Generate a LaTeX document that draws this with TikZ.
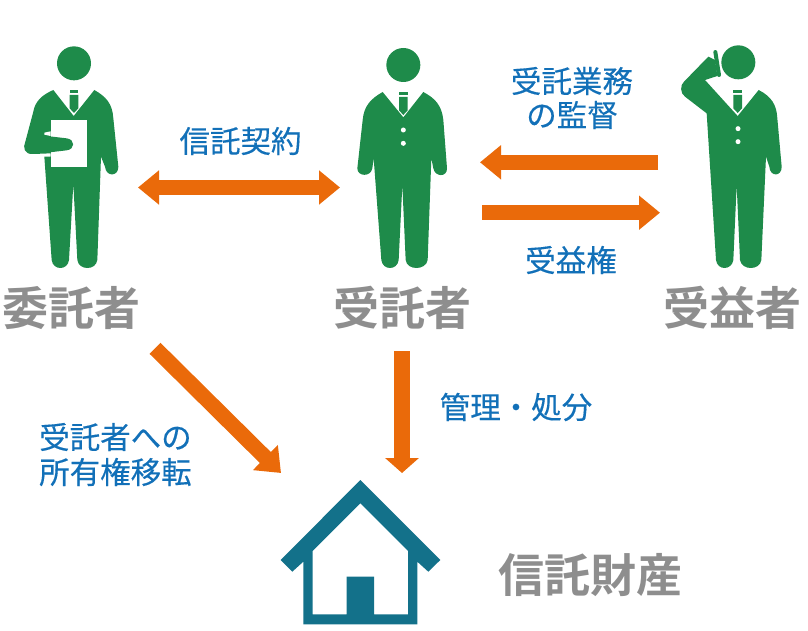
\documentclass[tikz,border=0pt]{standalone}
\usepackage{fontspec}
\setmainfont{Noto Sans CJK JP}[BoldFont={* Bold}]
\newfontface\labface{Noto Sans CJK JP}[FakeBold=0.35]
\usetikzlibrary{arrows.meta}
\definecolor{mangreen}{HTML}{1E8B4A}
\definecolor{arroworange}{HTML}{EA6A0A}
\definecolor{labelblue}{HTML}{1270B8}
\definecolor{titlegray}{HTML}{8E8E8E}
\definecolor{housecol}{HTML}{13718A}
\tikzset{
  bluelabel/.style={text=labelblue,font=\labface\fontsize{30.5}{34}\selectfont,inner sep=0pt},
  graylabel/.style={text=titlegray,font=\fontsize{46}{50}\selectfont\bfseries,inner sep=0pt},
  fatarrow/.style={draw=arroworange,line width=15.5pt},
  zoomed/.style={x=0.33333pt,y=-0.33333pt},
  man/.style={fill=mangreen,draw=none},
  wht/.style={fill=white,draw=none}
}
\newcommand{\mantie}[2]{%
  \fill[man] (#1-13,#2) rectangle (#1+13,#2+9);
  \fill[man] (#1-13,#2+15) -- (#1+13,#2+15) -- (#1+13,#2+55) -- (#1,#2+69) -- (#1-13,#2+55) -- cycle;
}
\begin{document}
\begin{tikzpicture}[x=1pt,y=-1pt]
\useasboundingbox (0,0) rectangle (808,631);
% --- man 1
\begin{scope}[shift={(0,30)},zoomed]
  \fill[man] (222,100) circle (17pt);
  \fill[man] (160,180) -- (221,258) -- (283,180) .. controls (318,200) and (337,220) .. (340,265) -- (355,410)
    .. controls (356,440) and (318,442) .. (315,410) -- (303,380) -- (292,690)
    .. controls (288,722) and (236,722) .. (232,690) -- (220,462) -- (207,690)
    .. controls (203,722) and (159,722) .. (155,690) -- (133,380) -- (152,380) -- (152,370) -- (100,372)
    .. controls (72,374) and (68,352) .. (76,335) -- (100,245)
    .. controls (105,215) and (125,195) .. (160,180) -- cycle;
  \mantie{222}{180}
  \fill[wht] (152,270) rectangle (260,412);
  \fill[wht] (152,304) -- (133,308) -- (133,314) -- (152,318) -- cycle;
  \fill[man] (140,318) -- (200,325) .. controls (226,328) and (226,358) .. (200,361) -- (140,368) -- cycle;
\end{scope}
% --- man 2
\begin{scope}[shift={(340,30)},zoomed]
  \fill[man] (190,105) circle (17pt);
  \fill[man] (128,186) -- (190,262) -- (250,186) .. controls (285,205) and (305,225) .. (310,270) -- (321,415)
    .. controls (322,442) and (285,442) .. (280,415) -- (274,385) -- (263,690)
    .. controls (258,722) and (200,722) .. (197,690) -- (187,465) -- (176,690)
    .. controls (172,722) and (128,722) .. (124,690) -- (101,385) -- (97,415)
    .. controls (92,442) and (52,440) .. (52,415) -- (68,270)
    .. controls (72,225) and (95,205) .. (128,186) -- cycle;
  \mantie{190}{186}
  \fill[wht] (190,300) circle (2.5pt);
  \fill[wht] (190,340) circle (2.5pt);
\end{scope}
% --- man 3
\begin{scope}[shift={(660,30)},zoomed]
  \fill[man] (235,97) circle (17pt);
  \fill[man] (135,150) -- (233,258) -- (296,180) .. controls (335,200) and (350,225) .. (352,265) -- (365,410)
    .. controls (366,440) and (330,442) .. (328,410) -- (318,380) -- (304,690)
    .. controls (300,722) and (245,722) .. (240,690) -- (230,465) -- (220,690)
    .. controls (215,722) and (172,722) .. (168,690) -- (140,250) -- (75,200)
    .. controls (60,190) and (60,165) .. (72,155) -- (145,80) -- (165,90) -- (172,138) -- cycle;
  \draw[mangreen,line width=4pt,line cap=round] (166,66) -- (177,135);
  \mantie{233}{180}
  \fill[wht] (234,296) circle (2.5pt);
  \fill[wht] (234,335) circle (2.5pt);
\end{scope}
% --- house
\fill[housecol,even odd rule]
  (360.3,480) -- (440.3,560) -- (428.3,571.7) -- (417.3,561.7) -- (417.3,624.3) -- (303.3,624.3) -- (303.3,561.7) -- (292.3,571.7) -- (280.7,560) -- cycle
  (360.3,503.3) -- (408,551) -- (408,614.3) -- (374,614.3) -- (374,576.7) -- (346.7,576.7) -- (346.7,614.3) -- (312.7,614.3) -- (312.7,551) -- cycle;
% --- titles
\node[graylabel] (settlor) at (71,308) {委託者};
\node[graylabel] (trustee) at (402,308) {受託者};
\node[graylabel] (benef) at (732,308) {受益者};
\node[graylabel] (asset) at (590,575) {信託財産};
% --- labels
\node[bluelabel] (contract) at (240.5,141) {信託契約};
\node[bluelabel] (super1) at (572,81) {受託業務};
\node[bluelabel] (super2) at (572,115) {の監督};
\node[bluelabel] (right) at (571,260) {受益権};
\node[bluelabel] (manage) at (516,407) {管理・処分};
\node[bluelabel,anchor=west] (own1) at (39,437) {受託者への};
\node[bluelabel,anchor=west] (own2) at (39,472) {所有権移転};
% --- connector ends
\coordinate (cl) at (138,187.5);
\coordinate (cr) at (340,187.5);
\coordinate (sa) at (658,162.3);
\coordinate (sb) at (480,162.3);
\coordinate (ra) at (482,212.7);
\coordinate (rb) at (660,212.7);
\coordinate (da) at (155,348.3);
\coordinate (db) at (281,473);
\coordinate (ma) at (402,351);
\coordinate (mb) at (402,473);
% --- connectors
\draw[fatarrow,{Triangle[length=21pt,width=33pt]}-{Triangle[length=21pt,width=33pt]}] (cl) -- (cr);
\draw[fatarrow,-{Triangle[length=21pt,width=33pt]}] (sa) -- (sb);
\draw[fatarrow,-{Triangle[length=21pt,width=33pt]}] (ra) -- (rb);
\draw[fatarrow,-{Triangle[length=22pt,width=34pt]}] (da) -- (db);
\draw[fatarrow,-{Triangle[length=15pt,width=33pt]}] (ma) -- (mb);
\end{tikzpicture}
\end{document}
